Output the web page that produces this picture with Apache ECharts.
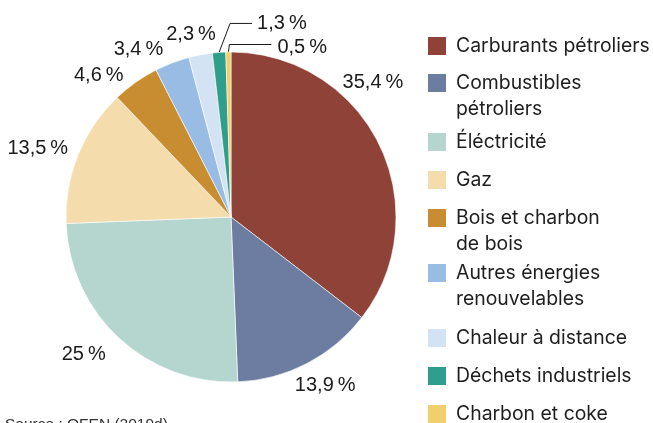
<!DOCTYPE html>
<html>
<head>
<meta charset="utf-8">
<script src="https://cdn.jsdelivr.net/npm/echarts@6/dist/echarts.min.js"></script>
<style>
  html, body { margin: 0; padding: 0; background: #fff; }
  #chart { width: 653px; height: 423px; }
</style>
</head>
<body>
<div id="chart"></div>
<script>
// Energy consumption by source (share, %)
const categories = [
  'Carburants pétroliers',
  'Combustibles\npétroliers',
  'Éléctricité',
  'Gaz',
  'Bois et charbon\nde bois',
  'Autres énergies\nrenouvelables',
  'Chaleur à distance',
  'Déchets industriels',
  'Charbon et coke'
];
const shares = [35.4, 13.9, 25, 13.5, 4.6, 3.4, 2.3, 1.3, 0.5];
const sourceNote = 'Source : OFEN (2019d)';

// Styling
const palette = ['#8f4338', '#6d7ca1', '#b4d6cf', '#f4dcac', '#c98d31',
                 '#98bce4', '#d4e3f4', '#309e8d', '#efd06b'];
const CX = 231, CY = 217, R = 165;
const LABEL_GAP = 30;
// fine adjustment of each outside label, in px
const labelNudge = [[-33, -48.5], [4.5, -4.5], [-15, -6], [-12.5, 5],
                    [-19.5, 18], [-23, 15], [-4, 9.5], [0, 0], [0, 0]];
// items labelled through a leader line: [elbow dx, elbow dy, end dx, text dx, text dy]
const leaders = {
  7: [11, -29, 33, 38, -28.5],
  8: [1, -7.5, 43, 49, -5]
};
// legend layout: top of each swatch
const legendRowTop = [37, 74, 133, 171, 209, 264, 329, 367, 405];
const LEGEND_X = 428, SWATCH = 18, LEGEND_TEXT_X = 456, LEGEND_LH = 26;

// French number format with a thin space before the percent sign
const fmt = v => String(v).replace('.', ',') + '\u2009%';

const data = shares.map((v, i) => ({
  value: v,
  name: categories[i],
  itemStyle: { color: palette[i] },
  labelLine: { lineStyle: { opacity: leaders[i] ? 1 : 0 } }
}));

const legendGraphics = [];
categories.forEach((name, i) => {
  legendGraphics.push({
    type: 'rect',
    shape: { x: LEGEND_X, y: legendRowTop[i], width: SWATCH, height: SWATCH },
    style: { fill: palette[i] }
  });
  legendGraphics.push({
    type: 'text',
    x: LEGEND_TEXT_X,
    y: legendRowTop[i] + SWATCH / 2 - LEGEND_LH / 2,
    style: {
      text: name,
      font: '19.4px Inter',
      fill: '#1e1e1e',
      lineHeight: LEGEND_LH,
      verticalAlign: 'top'
    }
  });
});
legendGraphics.push({
  type: 'text',
  x: 5,
  y: 416.5,
  style: { text: sourceNote, font: '15.5px "Liberation Sans"', fill: '#333', verticalAlign: 'top' }
});

const chart = echarts.init(document.getElementById('chart'), null, { renderer: 'canvas' });
chart.setOption({
  animation: false,
  backgroundColor: '#fff',
  series: [{
    type: 'pie',
    center: [CX, CY],
    radius: [0, R],
    startAngle: 90,
    clockwise: true,
    avoidLabelOverlap: false,
    itemStyle: { borderColor: '#fff', borderWidth: 0.6 },
    label: {
      show: true,
      position: 'outside',
      formatter: p => fmt(p.value),
      fontFamily: 'Liberation Sans',
      fontSize: 20,
      color: '#1a1a1a'
    },
    labelLine: {
      show: true,
      length: 10,
      length2: 10,
      lineStyle: { color: '#1a1a1a', width: 1 }
    },
    labelLayout: function (p) {
      const pts = p.labelLinePoints;
      if (!pts) return {};
      const x0 = pts[0][0], y0 = pts[0][1];
      const i = p.dataIndex;
      const ld = leaders[i];
      if (ld) {
        return {
          x: x0 + ld[3],
          y: y0 + ld[4],
          align: 'left',
          verticalAlign: 'middle',
          labelLinePoints: [[x0, y0], [x0 + ld[0], y0 + ld[1]], [x0 + ld[2], y0 + ld[1]]]
        };
      }
      const dx = x0 - CX, dy = y0 - CY;
      const len = Math.hypot(dx, dy);
      const d = len + LABEL_GAP;
      return {
        x: CX + dx / len * d + labelNudge[i][0],
        y: CY + dy / len * d + labelNudge[i][1],
        align: 'center',
        verticalAlign: 'middle'
      };
    },
    data: data
  }],
  graphic: legendGraphics
});
</script>
</body>
</html>
